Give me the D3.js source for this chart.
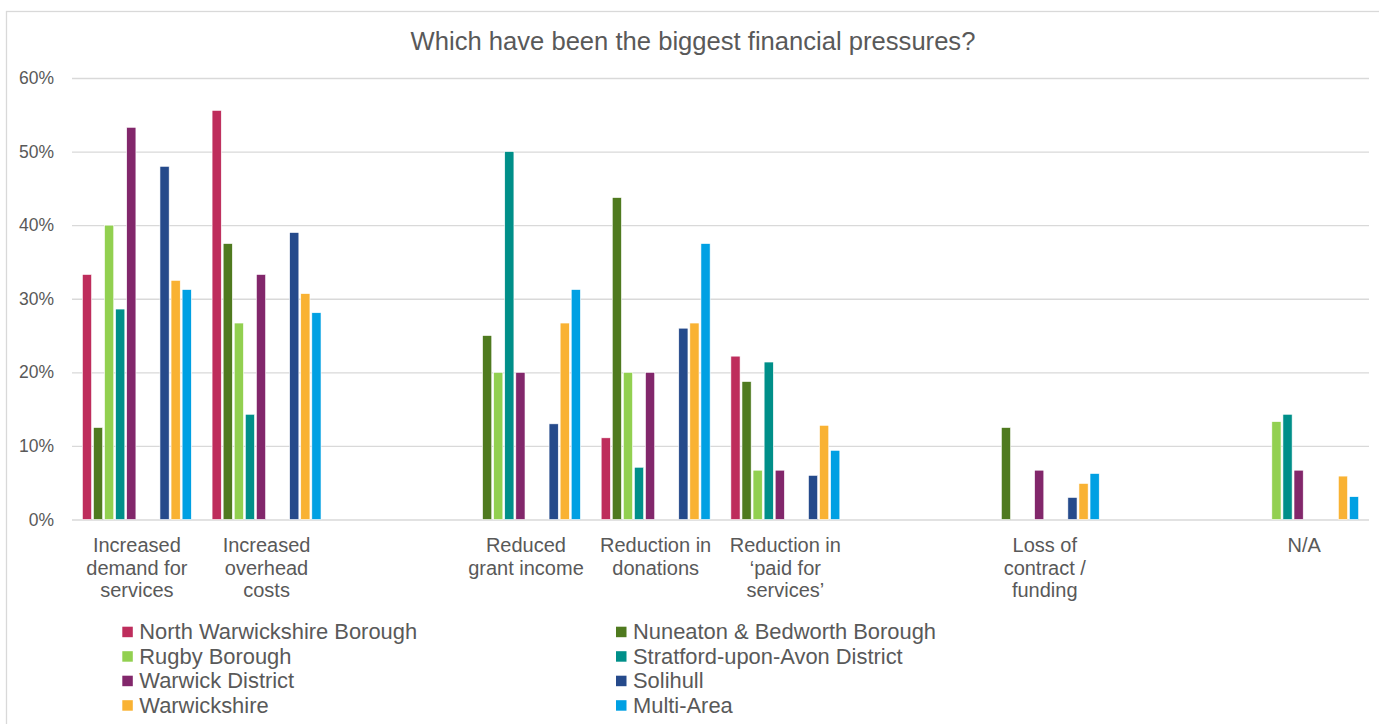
<!DOCTYPE html>
<html>
<head>
<meta charset="utf-8">
<script src="https://cdn.jsdelivr.net/npm/d3@7"></script>
<style>
  html, body { margin: 0; padding: 0; background: #fff; }
  svg { display: block; font-family: "Liberation Sans", Arial, sans-serif; }
</style>
</head>
<body>
<svg id="chart" width="1379" height="724"></svg>
<script>
// ---------- data ----------
const title = "Which have been the biggest financial pressures?";

// category slots (blank slots are empty categories on the axis)
const categoryKeys = ["c1","c2","c3","c4","c5","c6","c7","c8","c9","c10"];
const categoryLabels = [
  ["Increased", "demand for", "services"],
  ["Increased", "overhead", "costs"],
  [],
  ["Reduced", "grant income"],
  ["Reduction in", "donations"],
  ["Reduction in", "\u2018paid for", "services\u2019"],
  [],
  ["Loss of", "contract /", "funding"],
  [],
  ["N/A"]
];

const seriesNames = [
  "North Warwickshire Borough",
  "Nuneaton & Bedworth Borough",
  "Rugby Borough",
  "Stratford-upon-Avon District",
  "Warwick District",
  "Solihull",
  "Warwickshire",
  "Multi-Area"
];
// bar slots within each group (two unused slots sit between Warwick District and Solihull)
const slotKeys = [
  "North Warwickshire Borough",
  "Nuneaton & Bedworth Borough",
  "Rugby Borough",
  "Stratford-upon-Avon District",
  "Warwick District",
  "(unused 1)",
  "(unused 2)",
  "Solihull",
  "Warwickshire",
  "Multi-Area"
];
const seriesColors = ["#BE2D5C", "#4F7A1F", "#92D050", "#008F89", "#82276B", "#254A8B", "#F9B233", "#00A0E3"];

// values in percent, one per category slot
const northWarwickshire = [33.3, 55.6, 0, 0,    11.1,  22.2,  0, 0,    0, 0];
const nuneatonBedworth  = [12.5, 37.5, 0, 25,   43.75, 18.75, 0, 12.5, 0, 0];
const rugby             = [40,   26.7, 0, 20,   20,    6.7,   0, 0,    0, 13.3];
const stratford         = [28.6, 14.3, 0, 50,   7.1,   21.4,  0, 0,    0, 14.3];
const warwickDistrict   = [53.3, 33.3, 0, 20,   20,    6.7,   0, 6.7,  0, 6.7];
const solihull          = [48,   39,   0, 13,   26,    6,     0, 3,    0, 0];
const warwickshire      = [32.5, 30.7, 0, 26.7, 26.7,  12.8,  0, 4.9,  0, 5.9];
const multiArea         = [31.25,28.1, 0, 31.25,37.5,  9.4,   0, 6.25, 0, 3.1];
const seriesValues = [northWarwickshire, nuneatonBedworth, rugby, stratford, warwickDistrict, solihull, warwickshire, multiArea];

const yTicks = [0, 10, 20, 30, 40, 50, 60];

// ---------- layout ----------
const svg = d3.select("#chart");
const W = 1379, H = 724;
const plot = { left: 72, right: 1369, top: 78, bottom: 519.5 };
const textColor = "#595959";
const gridColor = "#D9D9D9";

// chart frame
svg.append("rect")
  .attr("x", 6.5).attr("y", 11.5)
  .attr("width", 1400).attr("height", 800)
  .attr("fill", "#fff").attr("stroke", gridColor).attr("stroke-width", 1.3);

// title
svg.append("text")
  .attr("x", 693).attr("y", 49.5)
  .attr("text-anchor", "middle")
  .attr("fill", textColor)
  .style("font-size", "25.6px")
  .text(title);

// scales
const x0 = d3.scaleBand().domain(categoryKeys).range([plot.left, plot.right])
  .paddingInner(0.16).paddingOuter(0.08);
const x1 = d3.scaleBand().domain(slotKeys).range([0, x0.bandwidth()]).paddingInner(0.17);
const y = d3.scaleLinear().domain([0, 60]).range([plot.bottom, plot.top]);

// y axis + gridlines
const yAxis = svg.append("g")
  .attr("transform", `translate(${plot.left},0)`)
  .call(d3.axisLeft(y).tickValues(yTicks).tickSize(-(plot.right - plot.left)).tickPadding(18).tickFormat(d => d + "%"));
yAxis.select(".domain").remove();
yAxis.selectAll(".tick line").attr("stroke", gridColor).attr("stroke-width", 1.4);
yAxis.selectAll(".tick text").attr("fill", textColor).style("font-size", "17.5px")
  .style("font-family", "'Liberation Sans', Arial, sans-serif");

// bars
const groups = svg.append("g").selectAll("g")
  .data(categoryKeys)
  .join("g")
  .attr("transform", d => `translate(${x0(d)},0)`);

groups.selectAll("rect")
  .data((cat, ci) => seriesNames.map((name, si) => ({ name, color: seriesColors[si], value: seriesValues[si][ci] }))
    .filter(d => d.value > 0))
  .join("rect")
  .attr("x", d => x1(d.name))
  .attr("width", x1.bandwidth())
  .attr("y", d => y(d.value))
  .attr("height", d => y(0) - y(d.value))
  .attr("fill", d => d.color)
  .attr("stroke", "#fff")
  .attr("stroke-width", 0.6);

// x axis labels
const xAxis = svg.append("g")
  .attr("transform", `translate(0,${plot.bottom})`)
  .call(d3.axisBottom(x0).tickSize(0).tickFormat(() => ""));
xAxis.select(".domain").remove();
xAxis.selectAll(".tick text").remove();
xAxis.selectAll(".tick").each(function(d) {
  const lines = categoryLabels[categoryKeys.indexOf(d)];
  const t = d3.select(this).append("text")
    .attr("text-anchor", "middle")
    .attr("fill", textColor)
    .style("font-size", "20px")
    .style("font-family", "'Liberation Sans', Arial, sans-serif");
  lines.forEach((ln, i) => {
    t.append("tspan").attr("x", 0).attr("y", 32.8 + i * 22.3).text(ln);
  });
});

// legend
const legend = svg.append("g");
const legendCols = [122.3, 616];
const legendRowY = 631.7, legendRowStep = 24.5;
seriesNames.forEach((name, i) => {
  const col = i % 2, row = Math.floor(i / 2);
  const gx = legendCols[col], gy = legendRowY + row * legendRowStep;
  const g = legend.append("g").attr("transform", `translate(${gx},${gy})`);
  g.append("rect").attr("x", 0).attr("y", -5).attr("width", 10.5).attr("height", 10.5)
    .attr("fill", seriesColors[i]);
  g.append("text").attr("x", 17).attr("y", 7.3)
    .attr("fill", textColor).style("font-size", "21.9px")
    .text(name);
});
</script>
</body>
</html>
